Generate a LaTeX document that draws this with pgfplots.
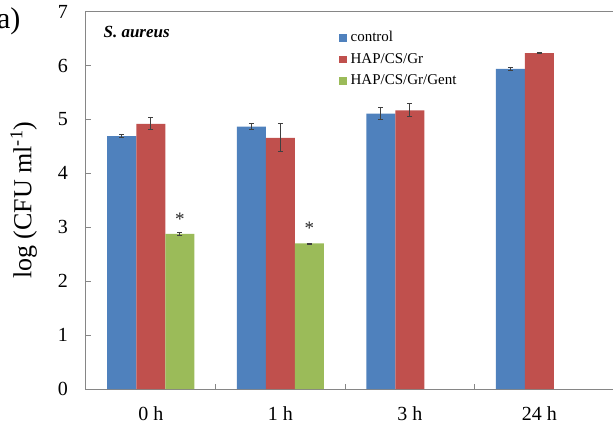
\documentclass[border=0pt]{standalone}
\usepackage{pgfplots}
\pgfplotsset{compat=1.18}
\usepackage{fontspec}
\setmainfont{Liberation Serif}

\definecolor{ctrlblue}{HTML}{4F81BD}
\definecolor{grred}{HTML}{C0504D}
\definecolor{gentgreen}{HTML}{9BBB59}
\definecolor{axisgray}{HTML}{868686}

% square legend swatches for the bar series
\pgfplotsset{
  sqlegend/.style={legend image code/.code={\fill[##1] (0pt,-3.7pt) rectangle (7.4pt,3.7pt);}},
  errbars/.style={
    error bars/y dir=both, error bars/y explicit,
    error bars/error bar style={line width=0.8pt, black!75},
    error bars/error mark options={rotate=90, mark size=2.5pt, line width=0.8pt, black!75}
  }
}

\begin{document}
\begin{tikzpicture}
\begin{axis}[
  scale only axis,
  width=531pt, height=377.3pt,
  ybar=0pt, bar width=0.224,
  xmin=-0.5, xmax=3.6,
  ymin=0, ymax=7,
  axis line style={axisgray, line width=1pt},
  tick style={axisgray, line width=1pt},
  tick align=inside,
  major tick length=5pt,
  xtick pos=bottom, ytick pos=left,
  xtick={0.5,1.5,2.5},
  xticklabels={},
  extra x ticks={0,1,2,3},
  extra x tick labels={0 h,1 h,3 h,24 h},
  extra x tick style={major tick length=0pt},
  ytick={0,1,...,7},
  /pgf/number format/assume math mode=true,
  yticklabel style={font=\fontsize{20}{20}\selectfont, inner sep=0pt, xshift=-18pt},
  xticklabel style={font=\fontsize{20}{20}\selectfont, inner sep=0pt, yshift=-17pt},
  ylabel={log (CFU ml\textsuperscript{-1})},
  ylabel style={font=\fontsize{26}{26}\selectfont, at={(axis description cs:-0.092,0.5)}, anchor=south, inner sep=0pt},
  legend style={draw=none, fill=none, inner sep=0pt, anchor=north west,
    at={(axis description cs:0.4765,0.9496)},
    font=\fontsize{15}{15}\selectfont,
    nodes={inner sep=0pt, text height=11pt, text depth=3pt},
    row sep=7.5pt, column sep=4pt},
  legend cell align=left,
]
  \addplot[sqlegend, fill=ctrlblue, draw=none, errbars]
    coordinates {(0,4.69) +- (0,0.03) (1,4.87) +- (0,0.05) (2,5.11) +- (0,0.11) (3,5.94) +- (0,0.03)};
  \addlegendentry{control}
  \addplot[sqlegend, fill=grred, draw=none, errbars]
    coordinates {(0,4.92) +- (0,0.11) (1,4.66) +- (0,0.26) (2,5.17) +- (0,0.12) (3,6.23) +- (0,0.01)};
  \addlegendentry{HAP/CS/Gr}
  \addplot[sqlegend, fill=gentgreen, draw=none, errbars,
    nodes near coords={*},
    every node near coord/.append style={anchor=center, yshift=14.8pt, text=black!85,
      font=\fontsize{19}{19}\selectfont}]
    coordinates {(0,2.88) +- (0,0.03) (1,2.70) +- (0,0.01)};
  \addlegendentry{HAP/CS/Gr/Gent}
  \node[anchor=west, font=\fontsize{17}{17}\selectfont\bfseries\itshape]
    at (axis description cs:0.0264,0.946) {S. aureus};
\end{axis}
\node[anchor=base east, font=\fontsize{30}{30}\selectfont] at (-62pt,360pt) {(a)};
\pgfresetboundingbox
\path[use as bounding box] (-86pt,-34pt) rectangle (527pt,389pt);
\end{tikzpicture}
\end{document}
